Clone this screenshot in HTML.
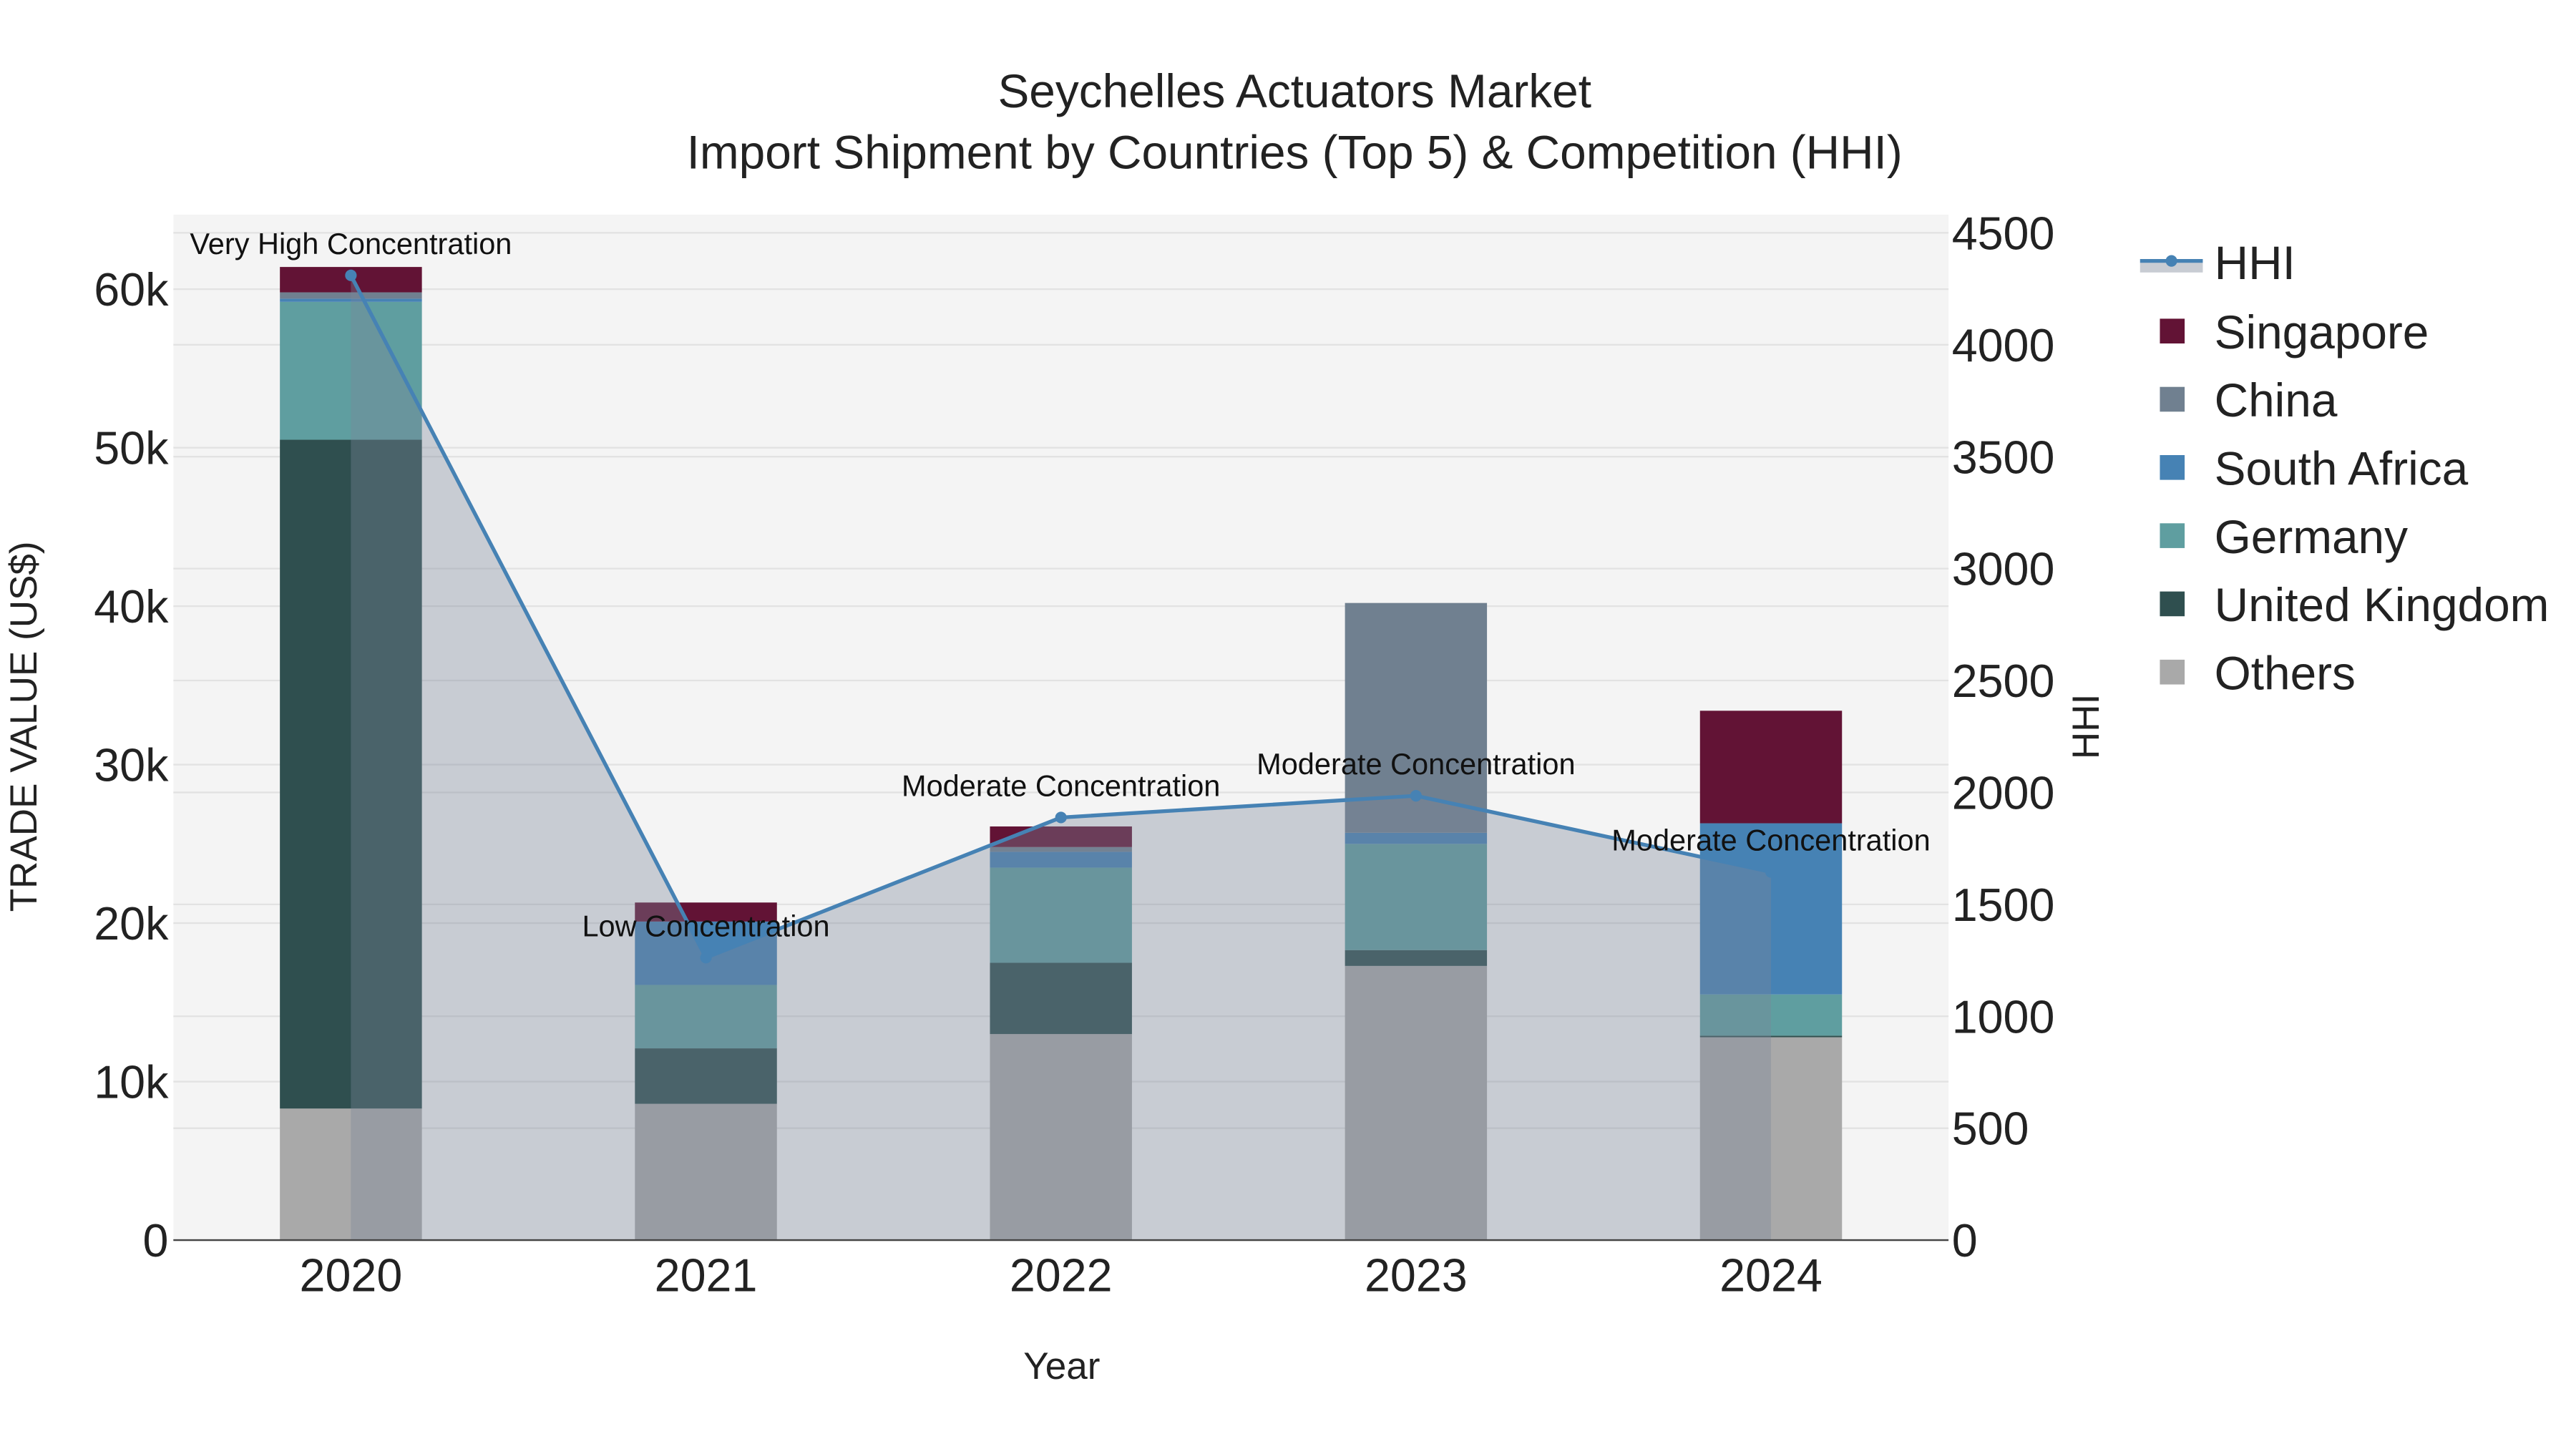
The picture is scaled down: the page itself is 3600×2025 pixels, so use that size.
<!DOCTYPE html>
<html><head><meta charset="utf-8"><style>
html,body{margin:0;padding:0;background:#fff;}
svg{display:block;font-family:"Liberation Sans",Arial,sans-serif;}
</style></head><body>
<svg id="chart" width="3600" height="2025" viewBox="0 0 1560 877.5" xmlns="http://www.w3.org/2000/svg">
<rect width="1560" height="877.5" fill="#fff"/>
<rect x="105" y="130" width="1075" height="621" fill="#f4f4f4"/>
<g id="grid"></g>
<g id="bars"></g>
<g id="area"></g>
<g id="line"></g>
<g id="annots"></g>
<line x1="105" y1="751" x2="1180" y2="751" stroke="#444" stroke-width="1"/>
<g id="ticks"></g>
<text x="784" y="65" text-anchor="middle" font-size="28.5" fill="#222">Seychelles Actuators Market</text>
<text x="784" y="102" text-anchor="middle" font-size="28.5" fill="#222">Import Shipment by Countries (Top 5) &amp; Competition (HHI)</text>
<text x="643" y="835" text-anchor="middle" font-size="23" fill="#222">Year</text>
<text transform="translate(22,440) rotate(-90)" text-anchor="middle" font-size="23" fill="#222">TRADE VALUE (US$)</text>
<text transform="translate(1271,440) rotate(-90)" text-anchor="middle" font-size="23" fill="#222">HHI</text>
<g id="legend"></g>
</svg>
<script>
const years = ["2020","2021","2022","2023","2024"];
const others = [8300, 8600, 13000, 17300, 12800];
const uk = [42200, 3500, 4500, 1000, 100];
const germany = [8700, 4000, 6000, 6700, 2600];
const southAfrica = [200, 4000, 1000, 700, 10800];
const china = [400, 0, 300, 14500, 0];
const singapore = [1600, 1200, 1300, 0, 7100];
const hhi = [4310, 1262, 1888, 1985, 1645];
const hhiLabels = ["Very High Concentration","Low Concentration","Moderate Concentration","Moderate Concentration","Moderate Concentration"];
const yTicks = [0,10000,20000,30000,40000,50000,60000];
const yTickLabels = ["0","10k","20k","30k","40k","50k","60k"];
const y2Ticks = [0,500,1000,1500,2000,2500,3000,3500,4000,4500];

const NS="http://www.w3.org/2000/svg";
const L=105,R=1180,B=751,T=130;
const xs=i=>L+(i+0.5)*(R-L)/years.length;
const ys=v=>B-v*(B-T)/64700;
const y2=v=>B-v*(610/4500);
function mk(tag,attrs,parent){const e=document.createElementNS(NS,tag);for(const k in attrs)e.setAttribute(k,attrs[k]);parent.appendChild(e);return e;}
const grid=document.getElementById('grid'),bars=document.getElementById('bars'),area=document.getElementById('area'),line=document.getElementById('line'),ann=document.getElementById('annots'),ticks=document.getElementById('ticks'),legend=document.getElementById('legend');

y2Ticks.forEach(v=>{const g=mk('line',{x1:L,x2:R,y1:y2(v),y2:y2(v),stroke:'#e2e2e2','stroke-width':1},grid);


const t=mk('text',{x:1182,y:y2(v)+10,'font-size':28,fill:'#222'},ticks);t.textContent=v;

});
yTicks.forEach((v,i)=>{const g=mk('line',{x1:L,x2:R,y1:ys(v),y2:ys(v),stroke:'#e2e2e2','stroke-width':1},grid);


const t=mk('text',{x:102,y:ys(v)+10,'font-size':28,fill:'#222','text-anchor':'end'},ticks);t.textContent=yTickLabels[i];

});
years.forEach((y,i)=>{const t=mk('text',{x:xs(i),y:782,'font-size':28,fill:'#222','text-anchor':'middle'},ticks);t.textContent=y;

});

const series=[["others",others,"#a9a9a9","Others"],["united-kingdom",uk,"#2f4f4f","United Kingdom"],["germany",germany,"#5f9ea0","Germany"],["south-africa",southAfrica,"#4682b4","South Africa"],["china",china,"#708090","China"],["singapore",singapore,"#621335","Singapore"]];
const bw=86;
years.forEach((y,i)=>{let base=0;series.forEach(s=>{const v=s[1][i];if(v>0){const r=mk('rect',{x:xs(i)-bw/2,y:ys(base+v),width:bw,height:ys(base)-ys(base+v),fill:s[2]},bars);

}base+=v;});});

let d='M'+xs(0)+','+B;hhi.forEach((v,i)=>d+=' L'+xs(i)+','+y2(v));d+=' L'+xs(hhi.length-1)+','+B+' Z';
const ar=mk('path',{d:d,fill:'rgba(123,134,153,0.365)'},area);


const pl=mk('polyline',{points:hhi.map((v,i)=>xs(i)+','+y2(v)).join(' '),fill:'none',stroke:'#4682b4','stroke-width':2.3},line);


hhi.forEach((v,i)=>{const c=mk('circle',{cx:xs(i),cy:y2(v),r:3.5,fill:'#4682b4'},line);


const t=mk('text',{x:xs(i),y:y2(v)-13,'font-size':18,fill:'#111','text-anchor':'middle'},ann);t.textContent=hhiLabels[i];

});

// legend
const lg0=mk('rect',{x:1296,y:159,width:38,height:6,fill:'#c8ccd3'},legend);


const lg1=mk('line',{x1:1296,x2:1334,y1:158,y2:158,stroke:'#4682b4','stroke-width':2.3},legend);


const lg2=mk('circle',{cx:1315,cy:158,r:3.5,fill:'#4682b4'},legend);


const lt=mk('text',{x:1341,y:169,'font-size':28.5,fill:'#222'},legend);lt.textContent='HHI';


series.slice().reverse().forEach((s,k)=>{const yy=201+k*41.3;
const r=mk('rect',{x:1308,y:yy-8,width:15,height:15,fill:s[2]},legend);


const t=mk('text',{x:1341,y:yy+10,'font-size':28.5,fill:'#222'},legend);t.textContent=s[3];

});
</script>
</body></html>
